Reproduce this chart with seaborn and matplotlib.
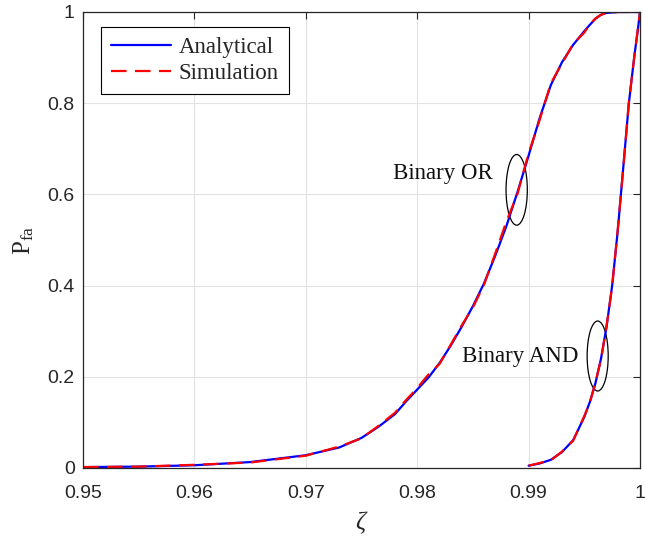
import matplotlib
matplotlib.use("Agg")
import matplotlib.pyplot as plt
from matplotlib.patches import Ellipse
import seaborn as sns

# ── Data ──────────────────────────────────────────────────────────────────
or_x = [0.950, 0.955, 0.960, 0.965, 0.970, 0.973, 0.975, 0.9765, 0.978, 0.979,
        0.980, 0.981, 0.982, 0.983, 0.984, 0.985, 0.986, 0.987, 0.988, 0.989,
        0.990, 0.991, 0.992, 0.993, 0.994, 0.995, 0.9955, 0.996, 0.9965, 0.997,
        0.998, 0.999, 1.000]
or_analytical = [0.002, 0.003, 0.006, 0.013, 0.028, 0.045, 0.066, 0.090, 0.118, 0.146,
                 0.172, 0.198, 0.230, 0.268, 0.310, 0.355, 0.405, 0.465, 0.530, 0.605,
                 0.685, 0.768, 0.840, 0.890, 0.928, 0.958, 0.972, 0.985, 0.994, 0.998,
                 1.000, 1.000, 1.000]
or_simulation = [0.002, 0.003, 0.007, 0.012, 0.027, 0.047, 0.065, 0.092, 0.121, 0.149,
                 0.175, 0.205, 0.228, 0.270, 0.313, 0.352, 0.402, 0.470, 0.540, 0.601,
                 0.690, 0.764, 0.844, 0.887, 0.930, 0.955, 0.973, 0.986, 0.994, 0.998,
                 1.000, 1.000, 1.000]

and_x = [0.9900, 0.9910, 0.9920, 0.9930, 0.9940, 0.9950, 0.9955, 0.9960, 0.9965,
         0.9970, 0.9975, 0.9980, 0.9985, 0.9990, 0.9995, 0.9998, 1.0000]
and_analytical = [0.005, 0.010, 0.018, 0.035, 0.061, 0.112, 0.145, 0.186, 0.240,
                  0.310, 0.400, 0.520, 0.660, 0.800, 0.905, 0.960, 1.000]
and_simulation = [0.005, 0.011, 0.017, 0.036, 0.060, 0.114, 0.143, 0.188, 0.238,
                  0.312, 0.398, 0.522, 0.658, 0.802, 0.904, 0.961, 1.000]

x_ticks = [0.95, 0.96, 0.97, 0.98, 0.99, 1.00]
x_tick_labels = ["0.95", "0.96", "0.97", "0.98", "0.99", "1"]
y_ticks = [0, 0.2, 0.4, 0.6, 0.8, 1.0]
y_tick_labels = ["0", "0.2", "0.4", "0.6", "0.8", "1"]

# ── Style ─────────────────────────────────────────────────────────────────
sns.set_theme(style="whitegrid")
plt.rcParams["font.family"] = ["Liberation Sans", "DejaVu Sans"]
plt.rcParams["mathtext.fontset"] = "custom"
plt.rcParams["mathtext.rm"] = "Liberation Serif"
plt.rcParams["mathtext.it"] = "Liberation Serif:italic"

SERIF = ["Liberation Serif", "DejaVu Serif"]
INK = "#262626"

fig = plt.figure(figsize=(6.45, 5.38), dpi=100)
ax = fig.add_axes([83 / 645, 70 / 538, 557 / 645, 456 / 538])
ax.set_facecolor("white")

dash = (7.0, 3.8)

sns.lineplot(x=or_x, y=or_analytical, ax=ax, color="#0000ff", linewidth=1.6,
             label="Analytical", estimator=None, sort=False)
sns.lineplot(x=or_x, y=or_simulation, ax=ax, color="#ff0000", linewidth=1.6,
             label="Simulation", estimator=None, sort=False)
ax.lines[-1].set_dashes(dash)
sns.lineplot(x=and_x, y=and_analytical, ax=ax, color="#0000ff", linewidth=1.6,
             estimator=None, sort=False)
sns.lineplot(x=and_x, y=and_simulation, ax=ax, color="#ff0000", linewidth=1.6,
             estimator=None, sort=False)
ax.lines[-1].set_dashes(dash)

ax.set_xlim(0.95, 1.0)
ax.set_ylim(0, 1)
ax.set_xticks(x_ticks)
ax.set_xticklabels(x_tick_labels)
ax.set_yticks(y_ticks)
ax.set_yticklabels(y_tick_labels)

ax.grid(True, color="#e3e3e3", linewidth=0.8)
ax.tick_params(direction="in", length=5, width=0.8, colors=INK,
               labelsize=14, top=True, right=True, labelcolor=INK)
ax.tick_params(axis="x", pad=12)
ax.tick_params(axis="y", pad=6)
for side in ax.spines.values():
    side.set_color(INK)
    side.set_linewidth(0.9)

ax.set_xlabel(r"$\zeta$", fontsize=18, color=INK, labelpad=6)
ax.set_ylabel(r"$\mathrm{P}_{\mathrm{fa}}$", fontsize=18, color=INK, labelpad=8)

# annotations
ax.add_patch(Ellipse((0.98893, 0.610), 0.00191, 0.155, fill=False,
                     edgecolor="black", linewidth=0.9))
ax.add_patch(Ellipse((0.99620, 0.2456), 0.00189, 0.1535, fill=False,
                     edgecolor="black", linewidth=0.9))
ax.text(0.97779, 0.645, "Binary OR", fontsize=16.5, family=SERIF,
        va="center", ha="left", color="#111111")
ax.text(0.98404, 0.2456, "Binary AND", fontsize=16.5, family=SERIF,
        va="center", ha="left", color="#111111")

leg = ax.legend(loc="upper left", bbox_to_anchor=(0.032, 0.968),
                prop={"family": SERIF, "size": 16.5}, frameon=True,
                fancybox=False, edgecolor="black", framealpha=1,
                borderpad=0.45, labelspacing=0.2, handlelength=2.6,
                handletextpad=0.35, borderaxespad=0)
leg.get_frame().set_linewidth(0.8)

fig.savefig("out.png", dpi=100)
